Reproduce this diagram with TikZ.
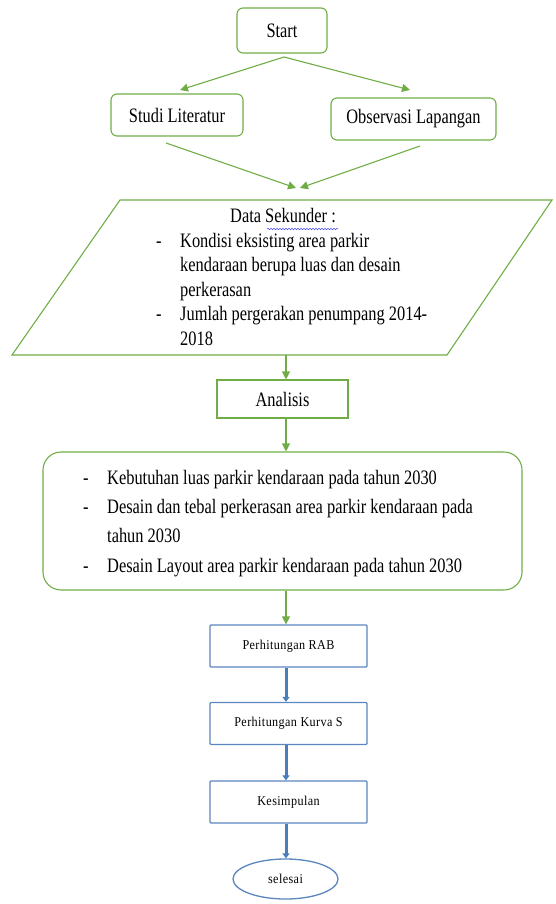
\documentclass[tikz,border=0pt]{standalone}
\usepackage{fontspec}
\setmainfont{Liberation Serif}
\newfontfamily\cond[FakeStretch=0.8]{Liberation Serif}
\newfontfamily\smallserif[FakeStretch=0.9,LetterSpace=3]{Liberation Serif}
\usetikzlibrary{arrows.meta,shapes.geometric,decorations.pathmorphing}
\definecolor{grn}{HTML}{70AD47}
\definecolor{blu}{HTML}{5B86BE}
\definecolor{bluar}{HTML}{4A7EBB}
\begin{document}
\begin{tikzpicture}[x=1pt,y=-1pt,
  gline/.style={draw=grn, line width=1.1pt},
  garrow/.style={gline, -{Triangle[length=8pt,width=8pt]}},
  barrow/.style={draw=bluar, line width=3pt, -{Triangle[length=5pt,width=7pt]}},
  gbox/.style={draw=grn, line width=1.1pt, inner sep=0pt, font=\cond\fontsize{20.5}{24}\selectfont},
  bbox/.style={draw=blu, line width=1.3pt, rounded corners=1pt, inner sep=0pt, minimum width=157pt, minimum height=42pt, font=\smallserif\fontsize{13.5}{15}\selectfont},
  txt/.style={inner sep=0pt, font=\cond\fontsize{20.5}{24}\selectfont},
]
\useasboundingbox (0,0) rectangle (555,904);
% top boxes
\node[gbox, rounded corners=6pt, minimum width=90pt, minimum height=45pt] (start) at (282,30.5) {Start};
\node[gbox, rounded corners=6pt, minimum width=132pt, minimum height=42pt] (studi) at (177,115) {Studi Literatur};
\node[gbox, rounded corners=6pt, minimum width=165pt, minimum height=42pt] (obs) at (413.5,119) {Observasi Lapangan};
\coordinate (s1) at (284,57);
\coordinate (s2) at (284,57);
\coordinate (sl) at (180,90);
\coordinate (sr) at (410,90);
\draw[garrow] (s1) -- (sl);
\draw[garrow] (s2) -- (sr);
\coordinate (l1) at (166,143);
\coordinate (r1) at (420,146);
\coordinate (m1) at (296,188);
\coordinate (m2) at (300,188);
\draw[garrow] (l1) -- (m1);
\draw[garrow] (r1) -- (m2);
% parallelogram
\node[inner sep=0pt, minimum width=330pt, minimum height=155pt] (data) at (282,277.5) {};
\draw[gline] (120,200) -- (552,200) -- (447,355) -- (12,355) -- cycle;
\node[txt, anchor=base] (dt0) at (283,222.5) {Data Sekunder :};
\node[txt, anchor=base west] (dd1) at (156,247) {-};
\node[txt, anchor=base west] (dt1) at (180,247) {Kondisi eksisting area parkir};
\node[txt, anchor=base west] (dt2) at (180,271.5) {kendaraan berupa luas dan desain};
\node[txt, anchor=base west] (dt3) at (180,296) {perkerasan};
\node[txt, anchor=base west] (dd4) at (156,320.5) {-};
\node[txt, anchor=base west] (dt4) at (180,320.5) {Jumlah pergerakan penumpang 2014-};
\node[txt, anchor=base west] (dt5) at (180,345) {2018};
\draw[draw=blue!70, line width=0.5pt, decorate, decoration={snake, segment length=3pt, amplitude=0.8pt}] (267,229) -- (338,229);
% analisis
\coordinate (pb) at (286,355);
\node[gbox, minimum width=131pt, minimum height=38pt] (anal) at (282.5,399) {Analisis};
\draw[garrow] (pb) -- (pb |- anal.north);
% result box
\node[gbox, rounded corners=18pt, minimum width=479pt, minimum height=138pt] (res) at (282.5,521) {};
\draw[garrow] (anal.south -| pb) -- (pb |- res.north);
\node[txt, anchor=base west] (rd1) at (83,484) {-};
\node[txt, anchor=base west] (rt1) at (107,484) {Kebutuhan luas parkir kendaraan pada tahun 2030};
\node[txt, anchor=base west] (rd2) at (83,513.5) {-};
\node[txt, anchor=base west] (rt2) at (107,513.5) {Desain dan tebal perkerasan area parkir kendaraan pada};
\node[txt, anchor=base west] (rt3) at (107,542.5) {tahun 2030};
\node[txt, anchor=base west] (rd4) at (83,572) {-};
\node[txt, anchor=base west] (rt4) at (107,572) {Desain Layout area parkir kendaraan pada tahun 2030};
% blue part
\node[bbox] (rab) at (288.5,646) {Perhitungan RAB};
\node[bbox] (kurva) at (288.5,723.5) {Perhitungan Kurva S};
\node[bbox] (kes) at (288.5,802) {Kesimpulan};
\node[draw=blu, line width=1.3pt, ellipse, inner sep=0pt, minimum width=105pt, minimum height=40pt, font=\smallserif\fontsize{13.5}{15}\selectfont] (sel) at (285.5,879) {selesai};
\draw[garrow] (res.south -| pb) -- (pb |- rab.north);
\draw[barrow] (rab.south -| pb) -- (pb |- kurva.north);
\draw[barrow] (kurva.south -| pb) -- (pb |- kes.north);
\draw[barrow] (kes.south -| pb) -- (pb |- sel.north);
\end{tikzpicture}
\end{document}
